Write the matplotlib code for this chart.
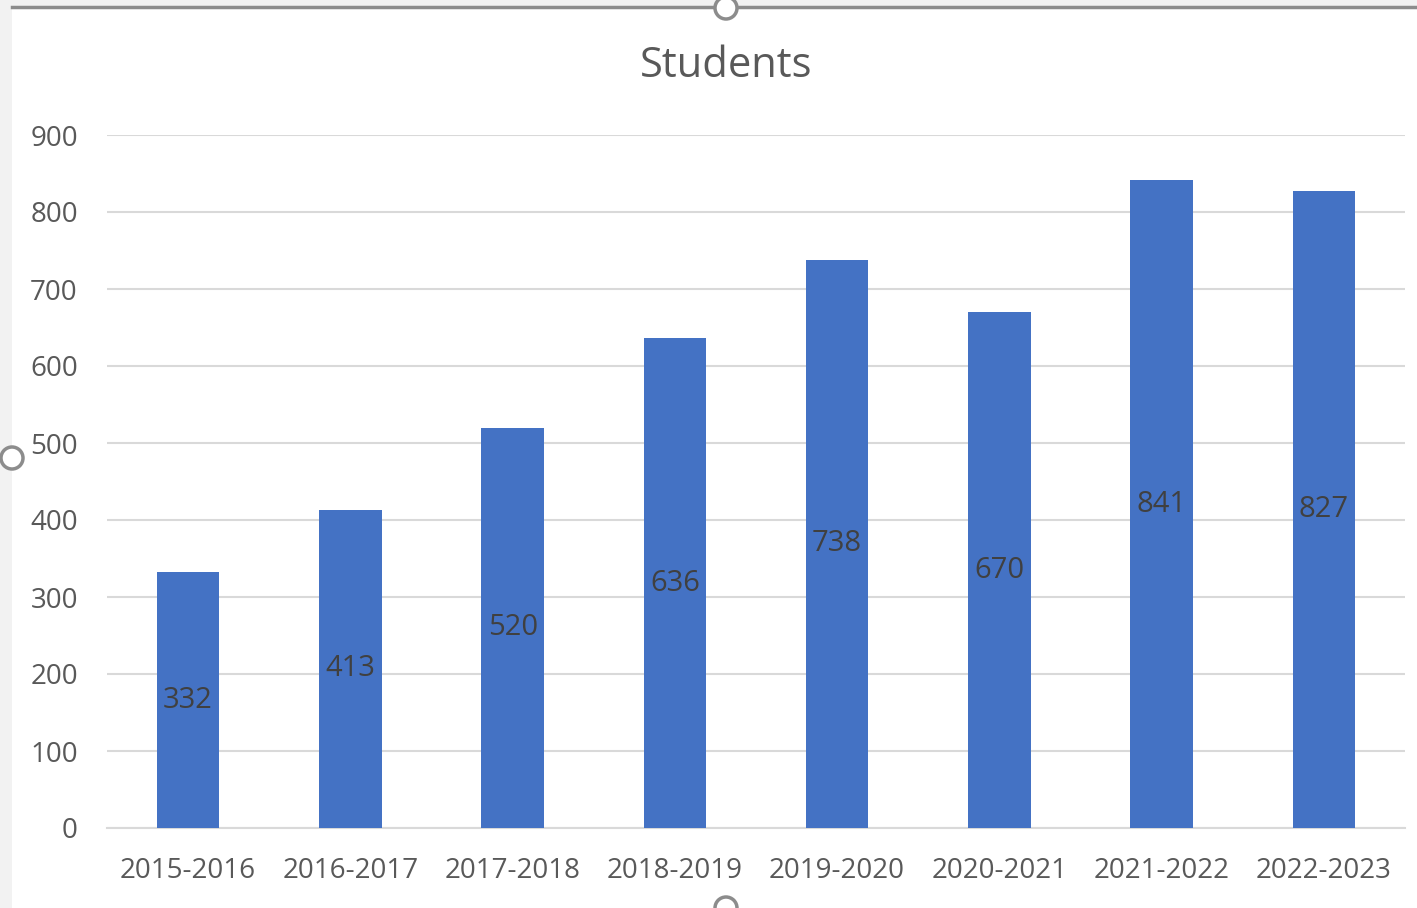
import matplotlib
matplotlib.use("Agg")
import matplotlib.pyplot as plt
from matplotlib.patches import Rectangle, Ellipse

categories = ["2015-2016", "2016-2017", "2017-2018", "2018-2019",
              "2019-2020", "2020-2021", "2021-2022", "2022-2023"]
students = [332, 413, 520, 636, 738, 670, 841, 827]
yticks = [0, 100, 200, 300, 400, 500, 600, 700, 800, 900]

plt.rcParams['font.family'] = ['Open Sans', 'DejaVu Sans']

W, H = 1417, 908
fig = plt.figure(figsize=(W / 100, H / 100), dpi=100)
fig.patch.set_facecolor("#f2f2f2")
# white chart panel
fig.add_artist(Rectangle((12 / W, 0), 1 - 12 / W, 1 - 8 / H, transform=fig.transFigure,
                         facecolor="white", edgecolor="none", zorder=-5))
fig.add_artist(plt.Line2D([12 / W, 1], [1 - 7 / H, 1 - 7 / H], transform=fig.transFigure,
                          color="#8c8c8c", lw=2.5, zorder=5))

ax = fig.add_axes([107 / W, (H - 828) / H, (1405 - 107) / W, (828 - 135) / H])
ax.set_zorder(1)
ax.set_facecolor("white")
x = list(range(len(categories)))
ax.bar(x, students, width=0.385, color="#4472C4", zorder=3)
for xi, v in zip(x, students):
    ax.text(xi, v / 2, str(v), ha="center", va="center", fontsize=21,
            color="#404040", zorder=4)

ax.set_xlim(-0.5, len(categories) - 0.5)
ax.set_ylim(0, 900)
ax.set_yticks(yticks)
ax.set_yticklabels([str(t) for t in yticks])
ax.set_xticks(x)
ax.set_xticklabels(categories)
ax.yaxis.grid(True, color="#d9d9d9", lw=1.5, zorder=0)
ax.set_axisbelow(True)
for s in ["top", "right", "left"]:
    ax.spines[s].set_visible(False)
ax.spines["bottom"].set_color("#d9d9d9")
ax.spines["bottom"].set_linewidth(1.5)
ax.tick_params(axis="both", length=0, labelsize=20, colors="#595959")
ax.tick_params(axis="x", pad=21)
ax.tick_params(axis="y", pad=21)

fig.text(726 / W, 1 - 66 / H, "Students", ha="center", va="center",
         fontsize=30, color="#595959")

# selection handles
for (hx, hy) in [(726, 8), (12, 458), (726, 908)]:
    fig.add_artist(Ellipse((hx / W, 1 - hy / H), 22 / W, 22 / H,
                           transform=fig.transFigure, facecolor="white",
                           edgecolor="#8c8c8c", lw=2.5, zorder=6))

fig.savefig("out.png", dpi=100, facecolor=fig.get_facecolor())
